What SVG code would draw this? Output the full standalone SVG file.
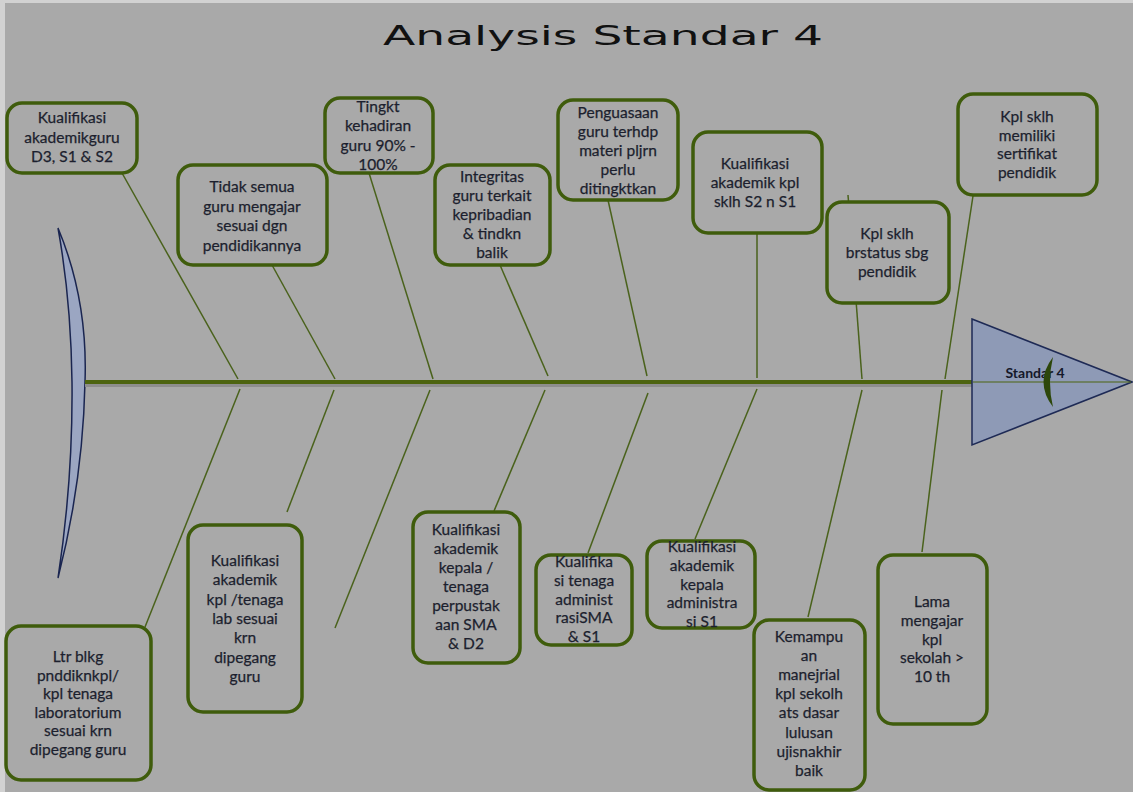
<svg xmlns="http://www.w3.org/2000/svg" width="1133" height="792" viewBox="0 0 1133 792">
  <style>
    .box { fill: #a9a9a9; stroke: #3f5c0c; stroke-width: 3.5; }
    .lbl { font-family: Lato, "Open Sans", "Liberation Sans", sans-serif; font-size: 15.5px; fill: #1c1f2e; stroke: #1c1f2e; stroke-width: 0.25; text-anchor: middle; }
    .bone { stroke: #4a621c; stroke-width: 1.5; fill: none; }
  </style>

  <!-- backdrop -->
  <rect x="0" y="0" width="1133" height="792" fill="#d2d2d2"/>
  <rect x="5" y="3" width="1128" height="789" fill="#a9a9a9"/>

  <!-- title -->
  <text x="383" y="45" font-family="'DejaVu Sans', sans-serif" font-size="26" fill="#111" textLength="440" lengthAdjust="spacingAndGlyphs">Analysis Standar 4</text>

  <!-- tail fin -->
  <g id="tail">
    <path d="M58,228 Q88,300 85,382 Q83,480 58,578 Q73,480 72,382 Q71,300 58,228 Z" fill="#9ba6c2" stroke="#1a2550" stroke-width="1.5"/>
  </g>

  <!-- spine and bones -->
  <g id="connectors">
    <rect x="85" y="384" width="888" height="3" fill="#8e8e8e"/>
    <line x1="85" y1="382" x2="973" y2="382" stroke="#4d6410" stroke-width="4"/>
    <!-- upper bones -->
    <line class="bone" x1="122" y1="173" x2="238" y2="379"/>
    <line class="bone" x1="272" y1="265" x2="335" y2="379"/>
    <line class="bone" x1="369" y1="173" x2="433" y2="379"/>
    <line class="bone" x1="500" y1="265" x2="548" y2="376"/>
    <line class="bone" x1="608" y1="200" x2="647" y2="376"/>
    <line class="bone" x1="757" y1="233" x2="757" y2="378"/>
    <line class="bone" x1="848" y1="195" x2="862" y2="379"/>
    <line class="bone" x1="973" y1="196" x2="945" y2="379"/>
    <!-- lower bones -->
    <line class="bone" x1="240" y1="389" x2="145" y2="627"/>
    <line class="bone" x1="334" y1="390" x2="287" y2="512"/>
    <line class="bone" x1="430" y1="390" x2="335" y2="628"/>
    <line class="bone" x1="545" y1="390" x2="494" y2="511"/>
    <line class="bone" x1="648" y1="393" x2="588" y2="553"/>
    <line class="bone" x1="757" y1="389" x2="695" y2="539"/>
    <line class="bone" x1="862" y1="390" x2="808" y2="617"/>
    <line class="bone" x1="942" y1="390" x2="922" y2="552"/>
  </g>

  <!-- head -->
  <g id="head">
    <polygon points="972,319 1132,382 972,445" fill="#8e9ab6" stroke="#1e2a55" stroke-width="1.5"/>
    <line x1="973" y1="382" x2="1131" y2="382" stroke="#4d6410" stroke-width="1"/>
    <text x="1035" y="378" font-family="Lato, 'Liberation Sans', sans-serif" font-size="14" font-weight="bold" fill="#15182a" text-anchor="middle">Standar 4</text>
    <path d="M1053,357 Q1034,382 1053,407 Q1047,382 1053,357 Z" fill="#2d470b"/>
  </g>

  <!-- upper cause boxes -->
  <g id="n1">
    <rect class="box" x="7" y="103" width="130" height="70" rx="15"/>
    <text class="lbl" y="123"><tspan x="72">Kualifikasi</tspan><tspan x="72" dy="19.5">akademikguru</tspan><tspan x="72" dy="19.5">D3, S1 &amp; S2</tspan></text>
  </g>
  <g id="n2">
    <rect class="box" x="178" y="165" width="149" height="100" rx="15"/>
    <text class="lbl" y="192"><tspan x="252">Tidak semua</tspan><tspan x="252" dy="19.5">guru mengajar</tspan><tspan x="252" dy="19.5">sesuai dgn</tspan><tspan x="252" dy="19.5">pendidikannya</tspan></text>
  </g>
  <g id="n3">
    <rect class="box" x="325" y="98" width="108" height="75" rx="15"/>
    <text class="lbl" y="112"><tspan x="378">Tingkt</tspan><tspan x="378" dy="19.3">kehadiran</tspan><tspan x="378" dy="19.3">guru 90% -</tspan><tspan x="378" dy="19.3">100%</tspan></text>
  </g>
  <g id="n4">
    <rect class="box" x="435" y="165" width="115" height="100" rx="15"/>
    <text class="lbl" y="182"><tspan x="492">Integritas</tspan><tspan x="492" dy="19">guru terkait</tspan><tspan x="492" dy="19">kepribadian</tspan><tspan x="492" dy="19">&amp; tindkn</tspan><tspan x="492" dy="19">balik</tspan></text>
  </g>
  <g id="n5">
    <rect class="box" x="558" y="100" width="120" height="100" rx="15"/>
    <text class="lbl" y="118"><tspan x="618">Penguasaan</tspan><tspan x="618" dy="19">guru terhdp</tspan><tspan x="618" dy="19">materi  pljrn</tspan><tspan x="618" dy="19">perlu</tspan><tspan x="618" dy="19">ditingktkan</tspan></text>
  </g>
  <g id="n6">
    <rect class="box" x="693" y="132" width="129" height="101" rx="15"/>
    <text class="lbl" y="169"><tspan x="755">Kualifikasi</tspan><tspan x="755" dy="19">akademik kpl</tspan><tspan x="755" dy="19">sklh S2 n S1</tspan></text>
  </g>
  <g id="n7">
    <rect class="box" x="827" y="202" width="122" height="101" rx="15"/>
    <text class="lbl" y="239"><tspan x="887">Kpl sklh</tspan><tspan x="887" dy="19">brstatus sbg</tspan><tspan x="887" dy="19">pendidik</tspan></text>
  </g>
  <g id="n8">
    <rect class="box" x="958" y="94" width="139" height="101" rx="15"/>
    <text class="lbl" y="122"><tspan x="1027">Kpl sklh</tspan><tspan x="1027" dy="18.7">memiliki</tspan><tspan x="1027" dy="18.7">sertifikat</tspan><tspan x="1027" dy="18.7">pendidik</tspan></text>
  </g>

  <!-- lower cause boxes -->
  <g id="n9">
    <rect class="box" x="6" y="626" width="145" height="154" rx="15"/>
    <text class="lbl" y="662"><tspan x="78">Ltr blkg</tspan><tspan x="78" dy="18.6">pnddiknkpl/</tspan><tspan x="78" dy="18.6">kpl tenaga</tspan><tspan x="78" dy="18.6">laboratorium</tspan><tspan x="78" dy="18.6">sesuai krn</tspan><tspan x="78" dy="18.6">dipegang guru</tspan></text>
  </g>
  <g id="n10">
    <rect class="box" x="188" y="525" width="114" height="187" rx="15"/>
    <text class="lbl" y="566"><tspan x="245">Kualifikasi</tspan><tspan x="245" dy="19.3">akademik</tspan><tspan x="245" dy="19.3">kpl /tenaga</tspan><tspan x="245" dy="19.3">lab sesuai</tspan><tspan x="245" dy="19.3">krn</tspan><tspan x="245" dy="19.3">dipegang</tspan><tspan x="245" dy="19.3">guru</tspan></text>
  </g>
  <g id="n11">
    <rect class="box" x="413" y="512" width="107" height="151" rx="15"/>
    <text class="lbl" y="535"><tspan x="466">Kualifikasi</tspan><tspan x="466" dy="19">akademik</tspan><tspan x="466" dy="19">kepala /</tspan><tspan x="466" dy="19">tenaga</tspan><tspan x="466" dy="19">perpustak</tspan><tspan x="466" dy="19">aan SMA</tspan><tspan x="466" dy="19">&amp; D2</tspan></text>
  </g>
  <g id="n12">
    <rect class="box" x="536" y="555" width="96" height="90" rx="15"/>
    <text class="lbl" y="567"><tspan x="584">Kualifika</tspan><tspan x="584" dy="18.8">si tenaga</tspan><tspan x="584" dy="18.8">administ</tspan><tspan x="584" dy="18.8">rasiSMA</tspan><tspan x="584" dy="18.8">&amp; S1</tspan></text>
  </g>
  <g id="n13">
    <rect class="box" x="647" y="541" width="108" height="87" rx="15"/>
    <text class="lbl" y="552"><tspan x="702">Kualifikasi</tspan><tspan x="702" dy="18.8">akademik</tspan><tspan x="702" dy="18.8">kepala</tspan><tspan x="702" dy="18.8">administra</tspan><tspan x="702" dy="18.8">si S1</tspan></text>
  </g>
  <g id="n14">
    <rect class="box" x="754" y="620" width="111" height="170" rx="15"/>
    <text class="lbl" y="642"><tspan x="809">Kemampu</tspan><tspan x="809" dy="19.1">an</tspan><tspan x="809" dy="19.1">manejrial</tspan><tspan x="809" dy="19.1">kpl sekolh</tspan><tspan x="809" dy="19.1">ats dasar</tspan><tspan x="809" dy="19.1">lulusan</tspan><tspan x="809" dy="19.1">ujisnakhir</tspan><tspan x="809" dy="19.1">baik</tspan></text>
  </g>
  <g id="n15">
    <rect class="box" x="878" y="555" width="109" height="169" rx="15"/>
    <text class="lbl" y="607"><tspan x="932">Lama</tspan><tspan x="932" dy="18.8">mengajar</tspan><tspan x="932" dy="18.8">kpl</tspan><tspan x="932" dy="18.8">sekolah &gt;</tspan><tspan x="932" dy="18.8">10 th</tspan></text>
  </g>
</svg>
